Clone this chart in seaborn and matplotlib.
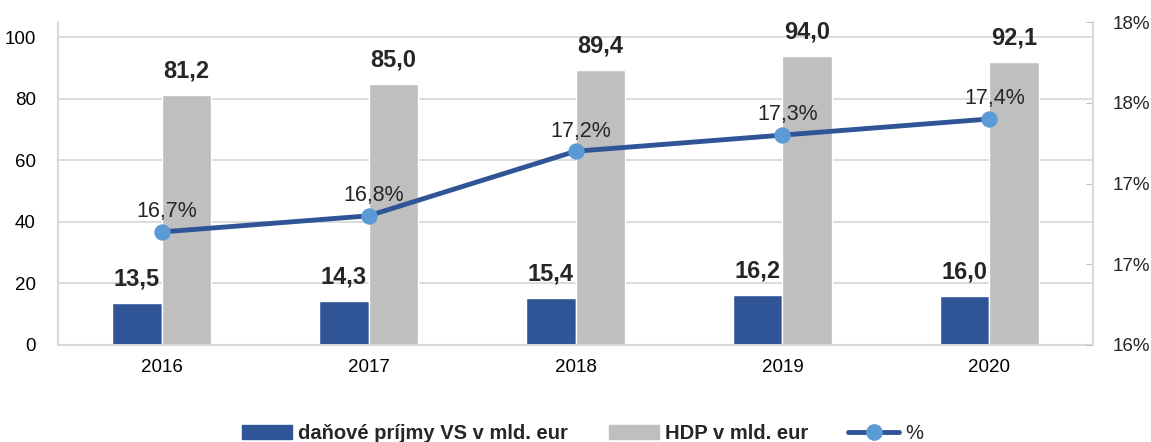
import numpy as np
import pandas as pd
import matplotlib.pyplot as plt
import seaborn as sns
from matplotlib.patches import Patch
from matplotlib.lines import Line2D
from matplotlib.ticker import FuncFormatter

# hodnoty z grafu
years = ["2016", "2017", "2018", "2019", "2020"]
tax_income = [13.5, 14.3, 15.4, 16.2, 16.0]
gdp = [81.2, 85.0, 89.4, 94.0, 92.1]
share_pct = [16.7, 16.8, 17.2, 17.3, 17.4]

tax_label = "daňové príjmy VS v mld. eur"
gdp_label = "HDP v mld. eur"

sns.set_style("white")
plt.rcParams["font.family"] = ["Liberation Sans", "DejaVu Sans"]

df = pd.DataFrame({
    "rok": years * 2,
    "hodnota": tax_income + gdp,
    "séria": [tax_label] * len(years) + [gdp_label] * len(years),
})

blue = "#2F5597"
grey = "#BFBFBF"
marker_blue = "#5B9BD5"
axis_grey = "#D9D9D9"

fig, ax = plt.subplots(figsize=(11.51, 4.42), dpi=100)
fig.subplots_adjust(left=0.0504, right=0.9496, top=0.950, bottom=0.2195)

sns.barplot(data=df, x="rok", y="hodnota", hue="séria", palette=[blue, grey],
            width=0.475, saturation=1, ax=ax, legend=False)
ax.set_xlim(-0.5, 4.5)
ax.set_ylim(0, 105)
ax.set_yticks(np.arange(0, 101, 20))
ax.set_xlabel("")
ax.set_ylabel("")
ax.set_axisbelow(True)
ax.yaxis.grid(True, color=axis_grey, linewidth=1.3)
ax.tick_params(axis="both", labelsize=13.5, length=0, colors="black")
ax.tick_params(axis="y", pad=16)
ax.tick_params(axis="x", pad=10)
for side in ["left", "bottom"]:
    ax.spines[side].set_color(axis_grey)
    ax.spines[side].set_linewidth(1.5)
ax.spines["top"].set_visible(False)
ax.spines["right"].set_visible(False)

for cont in ax.containers:
    ax.bar_label(cont, labels=[f"{v:.1f}".replace(".", ",") for v in cont.datavalues],
                 padding=9, fontsize=17, fontweight="bold")

ax2 = ax.twinx()
sns.lineplot(x=np.arange(len(years)), y=share_pct, ax=ax2, color=blue, linewidth=3.5,
             marker="o", markersize=11, markerfacecolor=marker_blue,
             markeredgecolor=marker_blue)
ax2.set_ylim(16, 18)
ax2.set_yticks(np.arange(16, 18.01, 0.5))
ax2.yaxis.set_major_formatter(FuncFormatter(lambda v, p: f"{int(v + 0.5)}%"))
ax2.tick_params(axis="y", labelsize=13.5, direction="in", length=5, color="#BFBFBF", pad=14)
ax2.spines["right"].set_color(axis_grey)
ax2.spines["right"].set_linewidth(1.5)
for side in ["top", "left", "bottom"]:
    ax2.spines[side].set_visible(False)

for i, v in enumerate(share_pct):
    ax2.annotate(f"{v:.1f}%".replace(".", ","), (i, v), xytext=(4, 7),
                 textcoords="offset points", ha="center", va="bottom", fontsize=15.5)

handles = [
    Patch(color=blue, label=tax_label),
    Patch(color=grey, label=gdp_label),
    Line2D([0], [0], color=blue, linewidth=3.5, marker="o", markersize=11,
           markerfacecolor=marker_blue, markeredgecolor=marker_blue, label="%"),
]
leg = fig.legend(handles=handles, loc="center", bbox_to_anchor=(0.506, 0.02), ncol=3,
                 frameon=False, fontsize=14.5, columnspacing=2.0, handlelength=2.5,
                 handletextpad=0.3)
for t in leg.get_texts()[:2]:
    t.set_fontweight("bold")

plt.savefig("out.png", dpi=100)
